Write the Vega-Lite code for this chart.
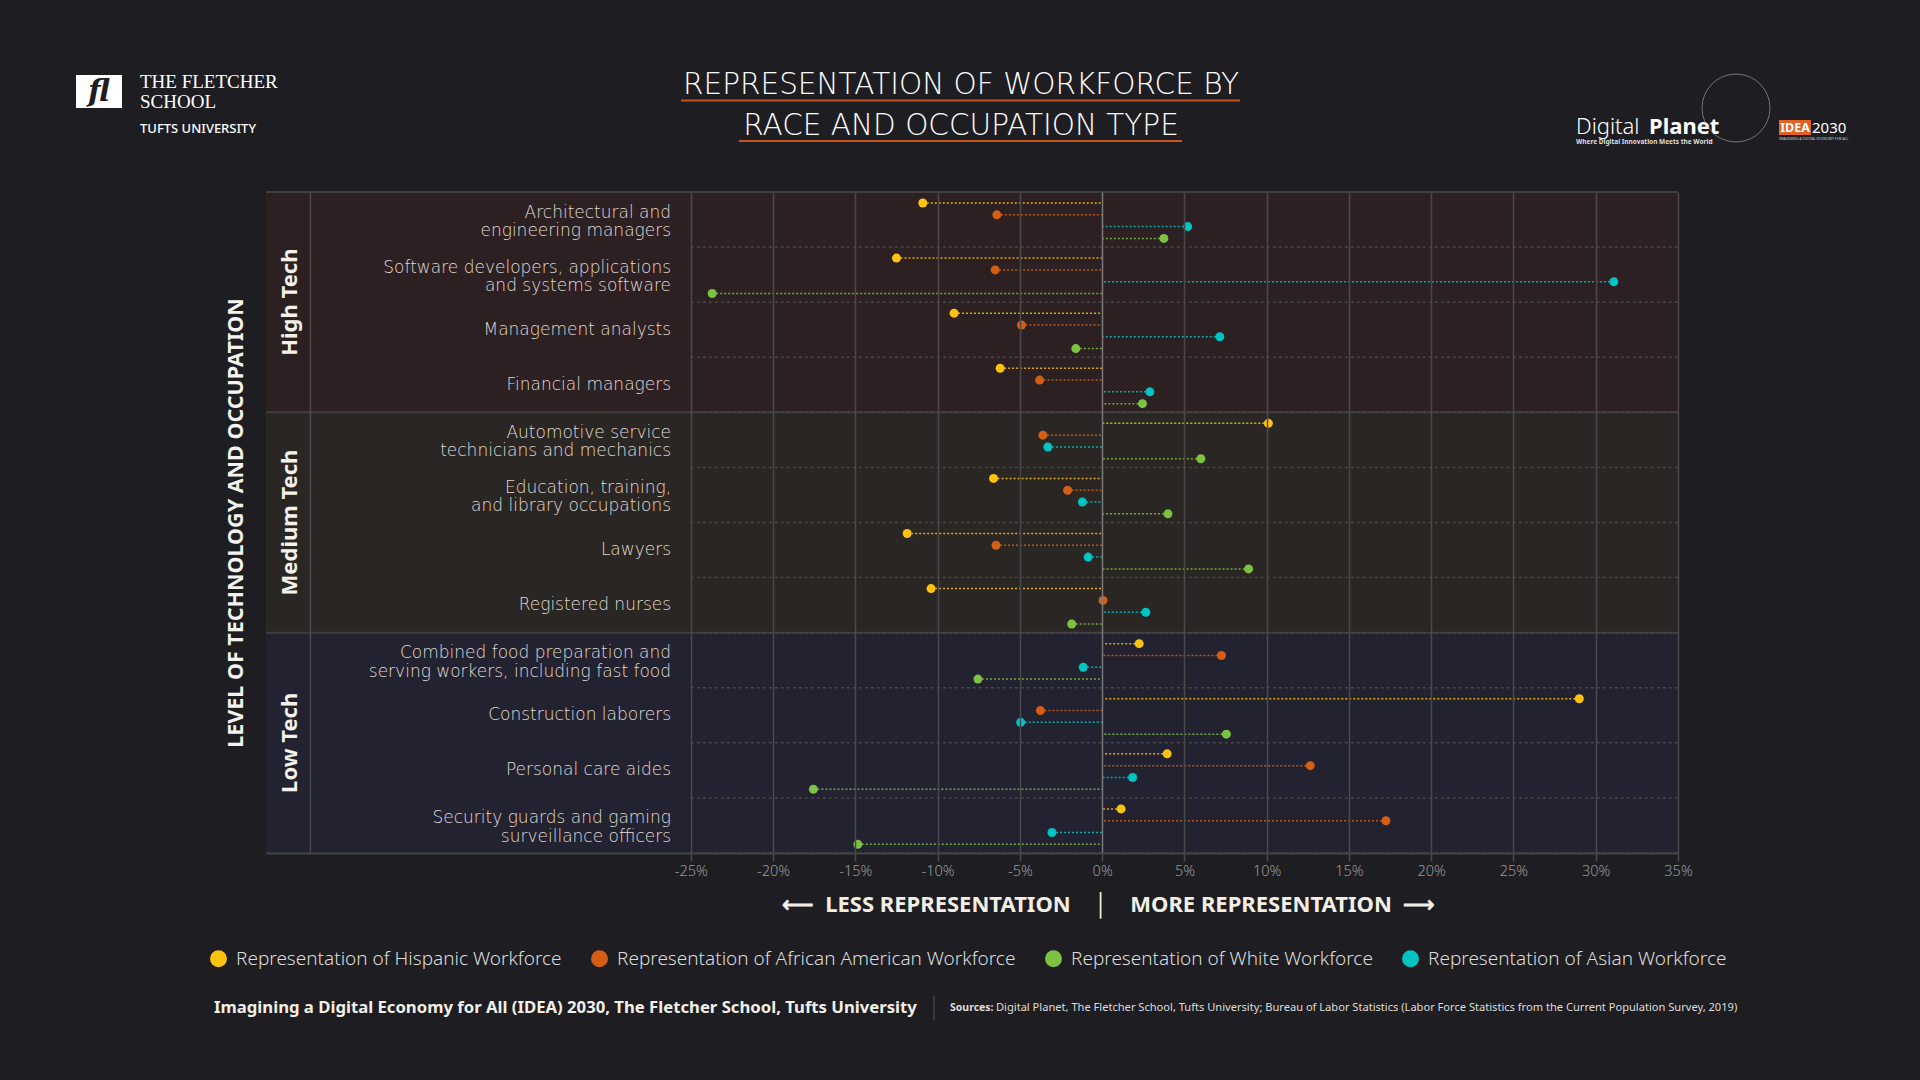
{
  "$schema": "https://vega.github.io/schema/vega-lite/v6.json",
  "autosize": {"type": "none"},
  "width": 1412,
  "height": 661,
  "padding": {"left": 266, "top": 192, "right": 242, "bottom": 227},
  "background": "#1e1e22",
  "config": {"view": {"stroke": null}, "font": "Noto Sans"},
  "title": {
    "text": ["REPRESENTATION OF WORKFORCE BY", "RACE AND OCCUPATION TYPE"],
    "anchor": "middle", "frame": "group", "dx": -11, "offset": 55, "dy": 124,
    "font": "DejaVu Sans", "fontSize": 29.5, "fontWeight": 200, "color": "#ffffff", "lineHeight": 40.5
  },
  "datasets": {
    "groups": [
      {"group": "High Tech"}, {"group": "Medium Tech"}, {"group": "Low Tech"}
    ],
    "occ": [
      {"occupation": "Architectural and engineering managers", "label": "Architectural and\nengineering managers", "group": "High Tech"},
      {"occupation": "Software developers, applications and systems software", "label": "Software developers, applications\nand systems software", "group": "High Tech"},
      {"occupation": "Management analysts", "label": "Management analysts", "group": "High Tech"},
      {"occupation": "Financial managers", "label": "Financial managers", "group": "High Tech"},
      {"occupation": "Automotive service technicians and mechanics", "label": "Automotive service\ntechnicians and mechanics", "group": "Medium Tech"},
      {"occupation": "Education, training, and library occupations", "label": "Education, training,\nand library occupations", "group": "Medium Tech"},
      {"occupation": "Lawyers", "label": "Lawyers", "group": "Medium Tech"},
      {"occupation": "Registered nurses", "label": "Registered nurses", "group": "Medium Tech"},
      {"occupation": "Combined food preparation and serving workers, including fast food", "label": "Combined food preparation and\nserving workers, including fast food", "group": "Low Tech"},
      {"occupation": "Construction laborers", "label": "Construction laborers", "group": "Low Tech"},
      {"occupation": "Personal care aides", "label": "Personal care aides", "group": "Low Tech"},
      {"occupation": "Security guards and gaming surveillance officers", "label": "Security guards and gaming\nsurveillance officers", "group": "Low Tech"}
    ],
    "vals": [
      {"occupation": "Architectural and engineering managers", "race": "Hispanic", "value": -10.9},
      {"occupation": "Architectural and engineering managers", "race": "African American", "value": -6.4},
      {"occupation": "Architectural and engineering managers", "race": "Asian", "value": 5.2},
      {"occupation": "Architectural and engineering managers", "race": "White", "value": 3.75},
      {"occupation": "Software developers, applications and systems software", "race": "Hispanic", "value": -12.5},
      {"occupation": "Software developers, applications and systems software", "race": "African American", "value": -6.5},
      {"occupation": "Software developers, applications and systems software", "race": "Asian", "value": 31.1},
      {"occupation": "Software developers, applications and systems software", "race": "White", "value": -23.7},
      {"occupation": "Management analysts", "race": "Hispanic", "value": -9.0},
      {"occupation": "Management analysts", "race": "African American", "value": -4.9},
      {"occupation": "Management analysts", "race": "Asian", "value": 7.15},
      {"occupation": "Management analysts", "race": "White", "value": -1.6},
      {"occupation": "Financial managers", "race": "Hispanic", "value": -6.2},
      {"occupation": "Financial managers", "race": "African American", "value": -3.8},
      {"occupation": "Financial managers", "race": "Asian", "value": 2.9},
      {"occupation": "Financial managers", "race": "White", "value": 2.45},
      {"occupation": "Automotive service technicians and mechanics", "race": "Hispanic", "value": 10.1},
      {"occupation": "Automotive service technicians and mechanics", "race": "African American", "value": -3.6},
      {"occupation": "Automotive service technicians and mechanics", "race": "Asian", "value": -3.3},
      {"occupation": "Automotive service technicians and mechanics", "race": "White", "value": 6.0},
      {"occupation": "Education, training, and library occupations", "race": "Hispanic", "value": -6.6},
      {"occupation": "Education, training, and library occupations", "race": "African American", "value": -2.1},
      {"occupation": "Education, training, and library occupations", "race": "Asian", "value": -1.2},
      {"occupation": "Education, training, and library occupations", "race": "White", "value": 4.0},
      {"occupation": "Lawyers", "race": "Hispanic", "value": -11.85},
      {"occupation": "Lawyers", "race": "African American", "value": -6.45},
      {"occupation": "Lawyers", "race": "Asian", "value": -0.85},
      {"occupation": "Lawyers", "race": "White", "value": 8.9},
      {"occupation": "Registered nurses", "race": "Hispanic", "value": -10.4},
      {"occupation": "Registered nurses", "race": "African American", "value": 0.05},
      {"occupation": "Registered nurses", "race": "Asian", "value": 2.65},
      {"occupation": "Registered nurses", "race": "White", "value": -1.85},
      {"occupation": "Combined food preparation and serving workers, including fast food", "race": "Hispanic", "value": 2.25},
      {"occupation": "Combined food preparation and serving workers, including fast food", "race": "African American", "value": 7.25},
      {"occupation": "Combined food preparation and serving workers, including fast food", "race": "Asian", "value": -1.15},
      {"occupation": "Combined food preparation and serving workers, including fast food", "race": "White", "value": -7.55},
      {"occupation": "Construction laborers", "race": "Hispanic", "value": 29.0},
      {"occupation": "Construction laborers", "race": "African American", "value": -3.75},
      {"occupation": "Construction laborers", "race": "Asian", "value": -4.95},
      {"occupation": "Construction laborers", "race": "White", "value": 7.55},
      {"occupation": "Personal care aides", "race": "Hispanic", "value": 3.95},
      {"occupation": "Personal care aides", "race": "African American", "value": 12.65},
      {"occupation": "Personal care aides", "race": "Asian", "value": 1.85},
      {"occupation": "Personal care aides", "race": "White", "value": -17.55},
      {"occupation": "Security guards and gaming surveillance officers", "race": "Hispanic", "value": 1.15},
      {"occupation": "Security guards and gaming surveillance officers", "race": "African American", "value": 17.25},
      {"occupation": "Security guards and gaming surveillance officers", "race": "Asian", "value": -3.05},
      {"occupation": "Security guards and gaming surveillance officers", "race": "White", "value": -14.85}
    ]
  },
  "resolve": {"scale": {"y": "independent"}},
  "layer": [
    {
      "data": {"name": "groups"},
      "encoding": {
        "y": {
          "field": "group", "type": "nominal",
          "scale": {"domain": ["High Tech", "Medium Tech", "Low Tech"], "paddingInner": 0, "paddingOuter": 0},
          "axis": {
            "title": "LEVEL OF TECHNOLOGY AND OCCUPATION", "orient": "left",
            "labels": false, "ticks": false, "domain": false,
            "titleFont": "Noto Sans", "titleFontSize": 21.5, "titleFontWeight": "bold",
            "titleColor": "#f5f3ee", "titlePadding": 19
          }
        }
      },
      "layer": [
        {
          "mark": {"type": "rect"},
          "encoding": {
            "fill": {
              "field": "group", "type": "nominal", "legend": null,
              "scale": {"domain": ["High Tech", "Medium Tech", "Low Tech"], "range": ["#2c2022", "#2a2623", "#222230"]}
            }
          }
        },
        {
          "mark": {"type": "rule", "color": "#403e3e", "strokeWidth": 2},
          "encoding": {"y": {"field": "group", "type": "nominal", "bandPosition": 0}}
        },
        {
          "mark": {"type": "text", "angle": 270, "align": "center", "baseline": "middle", "font": "Noto Sans", "fontSize": 22, "fontWeight": "bold", "color": "#f4f0ea"},
          "encoding": {
            "x": {"datum": -49.36},
            "text": {"field": "group"}
          }
        }
      ]
    },
    {
      "data": {"values": [{}]},
      "mark": {"type": "rule", "color": "#4a4a4a", "strokeWidth": 1.5},
      "encoding": {"x": {"datum": -48.12}}
    },
    {
      "encoding": {
        "y": {
          "field": "occupation", "type": "nominal",
          "scale": {
            "domain": [
              "Architectural and engineering managers",
              "Software developers, applications and systems software",
              "Management analysts",
              "Financial managers",
              "Automotive service technicians and mechanics",
              "Education, training, and library occupations",
              "Lawyers",
              "Registered nurses",
              "Combined food preparation and serving workers, including fast food",
              "Construction laborers",
              "Personal care aides",
              "Security guards and gaming surveillance officers"
            ],
            "paddingInner": 0, "paddingOuter": 0
          },
          "axis": null
        }
      },
      "layer": [
        {
          "data": {"name": "occ"},
          "mark": {"type": "rule", "color": "#484646", "strokeWidth": 1.5, "strokeDash": [3, 3]},
          "encoding": {
            "y": {"field": "occupation", "type": "nominal", "bandPosition": 1},
            "x": {"datum": -25},
            "x2": {"datum": 35}
          }
        },
        {
          "data": {"name": "occ"},
          "transform": [{"filter": "indexof(datum.label, '\\n') < 0"}],
          "mark": {"type": "text", "align": "right", "baseline": "middle", "font": "DejaVu Sans", "fontSize": 17, "fontWeight": 200, "color": "#e0dbd3"},
          "encoding": {
            "x": {"datum": -26.2},
            "text": {"field": "label"}
          }
        },
        {
          "data": {"name": "occ"},
          "transform": [{"filter": "indexof(datum.label, '\\n') >= 0"}],
          "mark": {"type": "text", "align": "right", "baseline": "middle", "lineBreak": "\n", "lineHeight": 18.5, "dy": -7, "font": "DejaVu Sans", "fontSize": 17, "fontWeight": 200, "color": "#e0dbd3"},
          "encoding": {
            "x": {"datum": -26.2},
            "text": {"field": "label"}
          }
        },
        {
          "data": {"name": "vals"},
          "mark": {"type": "rule", "strokeDash": [2, 2], "strokeWidth": 1.5, "opacity": 0.85},
          "encoding": {
            "x": {"field": "value", "type": "quantitative"},
            "x2": {"datum": 0},
            "yOffset": {
              "field": "race", "type": "nominal",
              "scale": {"domain": ["Hispanic", "African American", "Asian", "White"], "paddingInner": 0, "paddingOuter": 0.333, "align": 0.65}
            },
            "stroke": {
              "field": "race", "type": "nominal", "legend": null,
              "scale": {"domain": ["Hispanic", "African American", "Asian", "White"], "range": ["#ffc20e", "#d45f14", "#00c4c4", "#7dc242"]}
            }
          }
        },
        {
          "data": {"name": "vals"},
          "mark": {"type": "point", "filled": true, "size": 81, "opacity": 1},
          "encoding": {
            "x": {
              "field": "value", "type": "quantitative",
              "scale": {"domain": [-50.82, 35], "nice": false, "zero": false},
              "axis": {
                "values": [-25, -20, -15, -10, -5, 0, 5, 10, 15, 20, 25, 30, 35],
                "labelExpr": "datum.value + '%'",
                "grid": true,
                "gridColor": {"condition": {"test": "datum.value === 0", "value": "#7a7a7a"}, "value": "#4a4a4a"},
                "gridWidth": 1.5,
                "domainColor": "#454545", "domainWidth": 2,
                "tickColor": "#4a4a4a", "tickWidth": 1.5, "tickSize": 8,
                "labelColor": "#9a9a9a", "labelFont": "Noto Sans", "labelFontSize": 14.5, "labelFontWeight": 300,
                "labelPadding": 3, "labelFlush": false, "labelOverlap": false,
                "zindex": 1,
                "title": "⟵\u2002LESS REPRESENTATION\u2002\u2002│\u2002\u2002MORE REPRESENTATION\u2002⟶",
                "titleX": 842, "titleY": 51, "titleAlign": "center", "titleBaseline": "middle",
                "titleFont": "Noto Sans", "titleFontSize": 22, "titleFontWeight": "bold", "titleColor": "#f3efe6"
              }
            },
            "yOffset": {
              "field": "race", "type": "nominal",
              "scale": {"domain": ["Hispanic", "African American", "Asian", "White"], "paddingInner": 0, "paddingOuter": 0.333, "align": 0.65}
            },
            "color": {
              "field": "race", "type": "nominal",
              "scale": {"domain": ["Hispanic", "African American", "White", "Asian"], "range": ["#ffc20e", "#d45f14", "#7dc242", "#00c4c4"]},
              "legend": {
                "orient": "none", "legendX": -57, "legendY": 757, "direction": "horizontal",
                "title": null, "padding": 0,
                "labelExpr": "'Representation of ' + datum.label + ' Workforce'",
                "labelFont": "Noto Sans", "labelFontSize": 19, "labelFontWeight": 300, "labelColor": "#dcdcdc", "labelLimit": 600,
                "symbolType": "circle", "symbolSize": 289, "symbolStrokeWidth": 0, "symbolOpacity": 1,
                "columnPadding": 28, "labelOffset": 8
              }
            }
          }
        }
      ]
    },
    {
      "data": {"values": [{}]},
      "layer": [
        {"mark": {"type": "rule", "color": "#c5541e", "strokeWidth": 2}, "encoding": {"x": {"value": 415}, "x2": {"value": 974}, "y": {"value": -91.5}}},
        {"mark": {"type": "rule", "color": "#c5541e", "strokeWidth": 2}, "encoding": {"x": {"value": 473}, "x2": {"value": 916}, "y": {"value": -51}}},
        {"mark": {"type": "rect", "color": "#ffffff"}, "encoding": {"x": {"value": -190}, "x2": {"value": -144}, "y": {"value": -117}, "y2": {"value": -84}}},
        {"mark": {"type": "text", "text": "fl", "font": "DejaVu Serif", "fontSize": 30, "fontStyle": "italic", "fontWeight": "bold", "color": "#1e1e22", "align": "center", "baseline": "middle"}, "encoding": {"x": {"value": -167}, "y": {"value": -100}}},
        {"mark": {"type": "text", "text": "THE FLETCHER", "font": "Liberation Serif", "fontSize": 19, "color": "#ffffff", "align": "left", "baseline": "middle"}, "encoding": {"x": {"value": -126}, "y": {"value": -110.5}}},
        {"mark": {"type": "text", "text": "SCHOOL", "font": "Liberation Serif", "fontSize": 19, "color": "#ffffff", "align": "left", "baseline": "middle"}, "encoding": {"x": {"value": -126}, "y": {"value": -90.5}}},
        {"mark": {"type": "text", "text": "TUFTS UNIVERSITY", "font": "Noto Sans", "fontSize": 13, "fontWeight": 500, "color": "#ffffff", "align": "left", "baseline": "middle"}, "encoding": {"x": {"value": -126}, "y": {"value": -63}}},
        {"mark": {"type": "text", "text": "Digital", "font": "Noto Sans", "fontSize": 22, "fontWeight": 300, "color": "#ffffff", "align": "left", "baseline": "alphabetic"}, "encoding": {"x": {"value": 1310}, "y": {"value": -58.5}}},
        {"mark": {"type": "text", "text": "Planet", "font": "Noto Sans", "fontSize": 22, "fontWeight": "bold", "color": "#ffffff", "align": "left", "baseline": "alphabetic"}, "encoding": {"x": {"value": 1383}, "y": {"value": -58.5}}},
        {"mark": {"type": "text", "text": "Where Digital Innovation Meets the World", "font": "Noto Sans", "fontSize": 6.5, "fontWeight": "bold", "color": "#dddddd", "align": "left", "baseline": "middle"}, "encoding": {"x": {"value": 1310}, "y": {"value": -50}}},
        {"mark": {"type": "point", "shape": "circle", "filled": false, "size": 4624, "stroke": "#cfcfcf", "strokeWidth": 0.8, "opacity": 0.6}, "encoding": {"x": {"value": 1470}, "y": {"value": -84}}},
        {"mark": {"type": "rect", "color": "#e35f26"}, "encoding": {"x": {"value": 1513}, "x2": {"value": 1545}, "y": {"value": -72}, "y2": {"value": -57}}},
        {"mark": {"type": "text", "text": "IDEA", "font": "Noto Sans", "fontSize": 12.5, "fontWeight": "bold", "color": "#ffffff", "align": "center", "baseline": "middle"}, "encoding": {"x": {"value": 1529}, "y": {"value": -64.5}}},
        {"mark": {"type": "text", "text": "2030", "font": "Noto Sans", "fontSize": 15, "color": "#ffffff", "align": "left", "baseline": "middle"}, "encoding": {"x": {"value": 1546}, "y": {"value": -64.5}}},
        {"mark": {"type": "text", "text": "IMAGINING A DIGITAL ECONOMY FOR ALL", "font": "Noto Sans", "fontSize": 3.5, "color": "#cccccc", "align": "left", "baseline": "middle"}, "encoding": {"x": {"value": 1513}, "y": {"value": -53}}},
        {"mark": {"type": "text", "text": "Imagining a Digital Economy for All (IDEA) 2030, The Fletcher School, Tufts University", "font": "Noto Sans", "fontSize": 16.7, "fontWeight": "bold", "color": "#f2efe8", "align": "left", "baseline": "middle"}, "encoding": {"x": {"value": -52}, "y": {"value": 816}}},
        {"mark": {"type": "rule", "color": "#555555", "strokeWidth": 1}, "encoding": {"x": {"value": 668}, "y": {"value": 804}, "y2": {"value": 828}}},
        {"mark": {"type": "text", "text": "Sources:", "font": "Noto Sans", "fontSize": 10.5, "fontWeight": "bold", "color": "#dddddd", "align": "left", "baseline": "middle"}, "encoding": {"x": {"value": 684}, "y": {"value": 816}}},
        {"mark": {"type": "text", "text": "Digital Planet, The Fletcher School, Tufts University; Bureau of Labor Statistics (Labor Force Statistics from the Current Population Survey, 2019)", "font": "Noto Sans", "fontSize": 11.1, "color": "#dddddd", "align": "left", "baseline": "middle"}, "encoding": {"x": {"value": 730}, "y": {"value": 816}}}
      ]
    }
  ]
}
